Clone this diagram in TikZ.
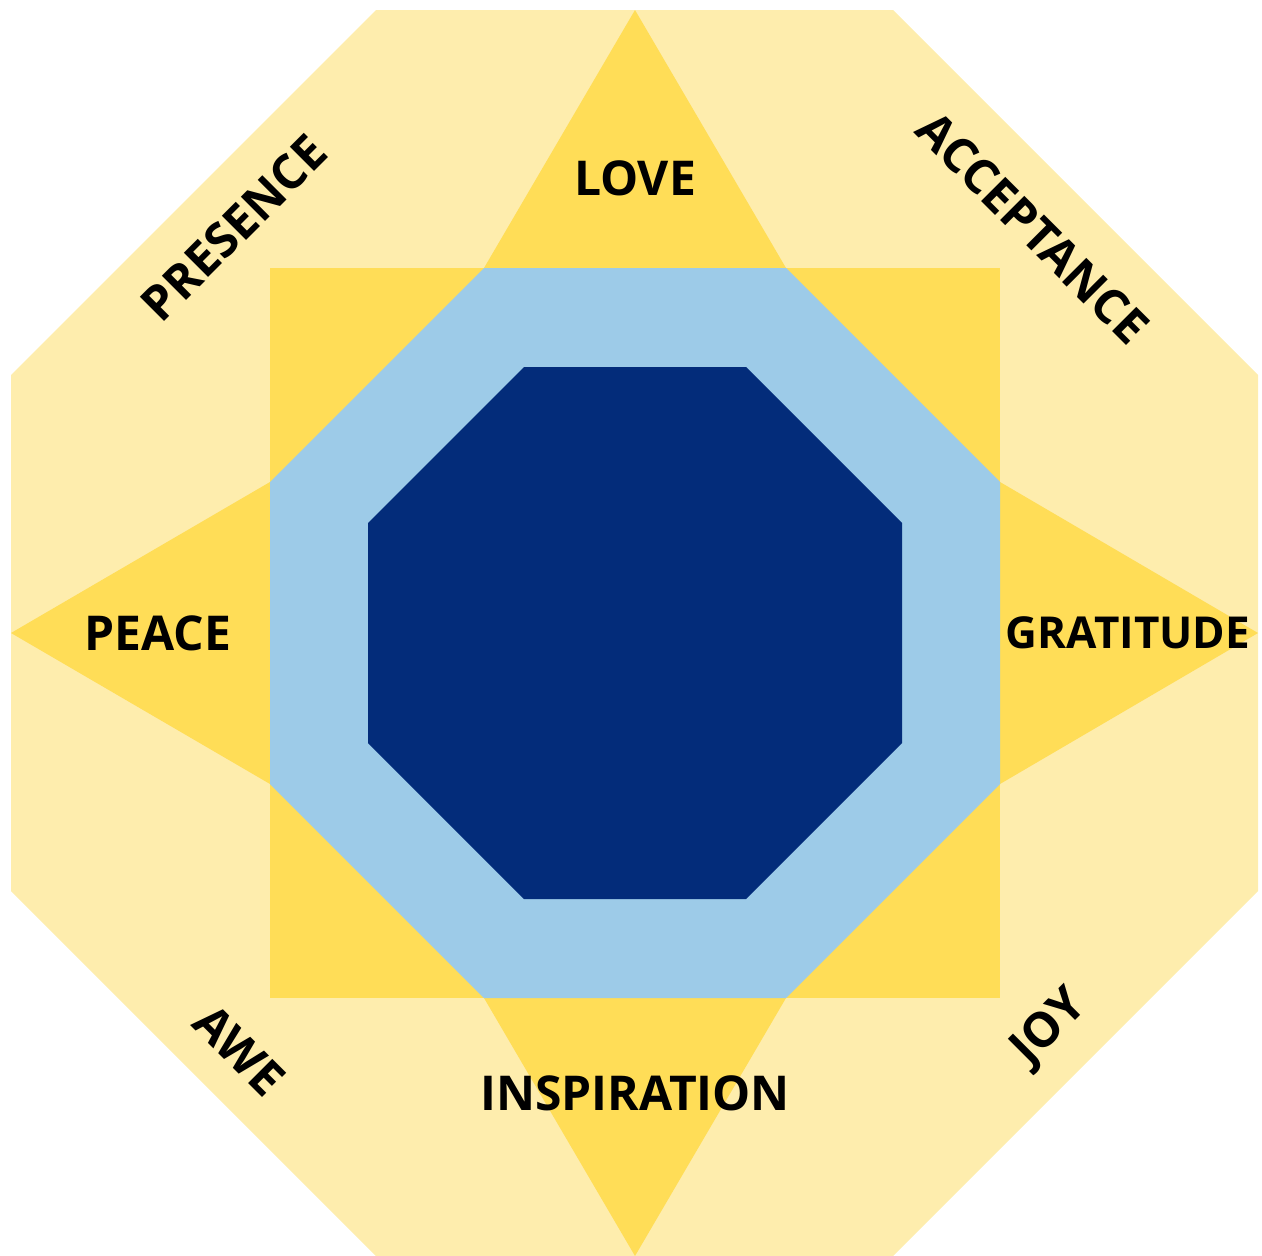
\documentclass[tikz,border=0pt]{standalone}
\usepackage{fontspec}
\setmainfont{Open Sans}
\definecolor{paleyellow}{HTML}{FEEDAD}
\definecolor{staryellow}{HTML}{FFDD57}
\definecolor{lightblue}{HTML}{9DCBE8}
\definecolor{darkblue}{HTML}{032C7A}
\begin{document}
\begin{tikzpicture}[x=1pt,y=-1pt,
  lbl/.style={font=\fontsize{48}{48}\selectfont\bfseries, text=black, inner sep=0pt}]
\useasboundingbox (0,0) rectangle (1262,1256);
% outer octagon
\fill[paleyellow] (376,10) -- (893,10) -- (1258,375) -- (1258,891) -- (893,1256) -- (376,1256) -- (11,891) -- (11,375) -- cycle;
% star: square + four triangles
\fill[staryellow] (270,268) rectangle (1000,998);
\fill[staryellow] (635,10) -- (484,268) -- (786,268) -- cycle;
\fill[staryellow] (635,1256) -- (484,998) -- (786,998) -- cycle;
\fill[staryellow] (11,633) -- (270,482) -- (270,784) -- cycle;
\fill[staryellow] (1258,633) -- (1000,482) -- (1000,784) -- cycle;
% light blue octagon
\fill[lightblue] (484,268) -- (786,268) -- (1000,482) -- (1000,784) -- (786,998) -- (484,998) -- (270,784) -- (270,482) -- cycle;
% dark blue octagon
\fill[darkblue] (524,367) -- (746,367) -- (902,523) -- (902,743) -- (746,899) -- (524,899) -- (368,743) -- (368,523) -- cycle;
% labels
\node[lbl] (love) at (635,178) {LOVE};
\node[lbl] (peace) at (158,633) {PEACE};
\node[lbl, font=\fontsize{44}{44}\selectfont\bfseries] (gratitude) at (1128,633) {GRATITUDE};
\node[lbl] (inspiration) at (635,1093) {INSPIRATION};
\node[lbl, rotate=45] (presence) at (234,228) {PRESENCE};
\node[lbl, rotate=-45] (acceptance) at (1033,228) {ACCEPTANCE};
\node[lbl, rotate=-45] (awe) at (240,1050) {AWE};
\node[lbl, rotate=45] (joy) at (1050,1028) {JOY};
\end{tikzpicture}
\end{document}
